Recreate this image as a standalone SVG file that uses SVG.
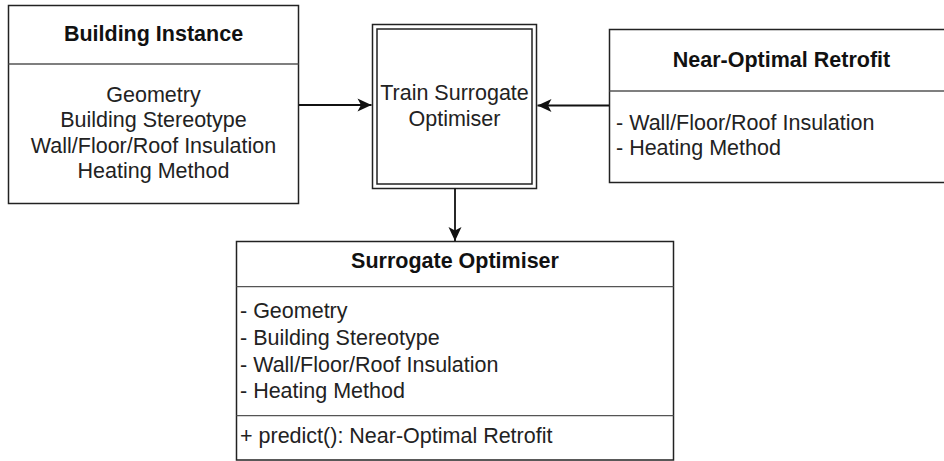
<svg xmlns="http://www.w3.org/2000/svg" width="944" height="461" viewBox="0 0 944 461">
  <style>
    .box { fill: #ffffff; stroke: #222222; stroke-width: 1.5; }
    .div { stroke: #555555; stroke-width: 1.3; fill: none; }
    .edge { stroke: #111111; stroke-width: 1.8; fill: none; }
    .t { font-family: "Liberation Sans", Arial, sans-serif; font-size: 21.5px; fill: #222222; }
    .b { font-weight: bold; fill: #111111; }
    .c { text-anchor: middle; }
  </style>
  <defs>
    <marker id="arrow" markerUnits="userSpaceOnUse" markerWidth="16" markerHeight="16" viewBox="-15 -8 16 16" refX="0" refY="0" orient="auto">
      <path d="M0,0 L-14,-6.5 L-10.5,0 L-14,6.5 Z" fill="#111111"/>
    </marker>
  </defs>

  <!-- Building Instance -->
  <g id="building-instance">
    <rect class="box" x="8.5" y="5.5" width="290" height="198"/>
    <line class="div" x1="8.5" y1="64" x2="298.5" y2="64"/>
    <text class="t b c" x="153.5" y="41">Building Instance</text>
    <text class="t c" x="153.5" y="101.7">Geometry</text>
    <text class="t c" x="153.5" y="127.1">Building Stereotype</text>
    <text class="t c" x="153.5" y="152.5">Wall/Floor/Roof Insulation</text>
    <text class="t c" x="153.5" y="177.9">Heating Method</text>
  </g>

  <!-- Train Surrogate Optimiser (double border) -->
  <g id="train-surrogate">
    <rect class="box" x="372.5" y="24.5" width="164" height="164"/>
    <rect class="box" x="377" y="29" width="155" height="155"/>
    <text class="t c" x="454.5" y="100">Train Surrogate</text>
    <text class="t c" x="454.5" y="126">Optimiser</text>
  </g>

  <!-- Near-Optimal Retrofit -->
  <g id="near-optimal-retrofit">
    <rect class="box" x="609.5" y="29.5" width="344" height="153"/>
    <line class="div" x1="609.5" y1="91" x2="953.5" y2="91"/>
    <text class="t b c" x="781.5" y="66.5">Near-Optimal Retrofit</text>
    <text class="t" x="616" y="130">- Wall/Floor/Roof Insulation</text>
    <text class="t" x="616" y="155">- Heating Method</text>
  </g>

  <!-- Surrogate Optimiser -->
  <g id="surrogate-optimiser">
    <rect class="box" x="236.5" y="241.5" width="437" height="218.5"/>
    <line class="div" x1="236.5" y1="286.7" x2="673.5" y2="286.7"/>
    <line class="div" x1="236.5" y1="415.7" x2="673.5" y2="415.7"/>
    <text class="t b c" x="455" y="268">Surrogate Optimiser</text>
    <text class="t" x="240" y="318.3">- Geometry</text>
    <text class="t" x="240" y="345">- Building Stereotype</text>
    <text class="t" x="240" y="371.7">- Wall/Floor/Roof Insulation</text>
    <text class="t" x="240" y="398.3">- Heating Method</text>
    <text class="t" x="240" y="443.3">+ predict(): Near-Optimal Retrofit</text>
  </g>

  <!-- Connectors -->
  <g id="connectors">
    <line class="edge" x1="299" y1="105" x2="371.5" y2="105" marker-end="url(#arrow)"/>
    <line class="edge" x1="609" y1="105.5" x2="537.5" y2="105.5" marker-end="url(#arrow)"/>
    <line class="edge" x1="455" y1="188.5" x2="455" y2="241" marker-end="url(#arrow)"/>
  </g>
</svg>
